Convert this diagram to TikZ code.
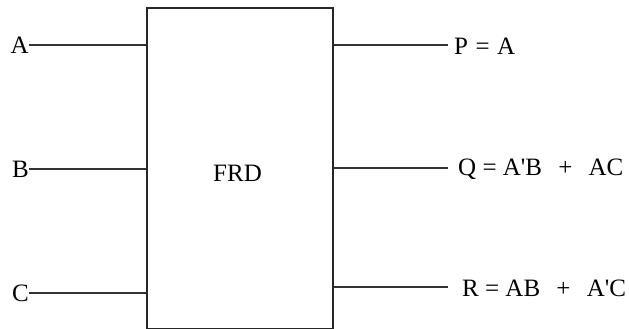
\documentclass[tikz,border=0pt]{standalone}
\usepackage{fontspec}
\setmainfont{Liberation Serif}
\begin{document}
\begin{tikzpicture}[x=1pt,y=-1pt,
  lbl/.style={inner sep=0pt,font=\fontsize{25}{30}\selectfont},
  wire/.style={line width=1.5pt,draw=black!80},
  block/.style={draw=black!85,line width=1.5pt,inner sep=0pt,anchor=north west}]
\useasboundingbox (0,0) rectangle (629,329);
% the block
\node[block,minimum width=186pt,minimum height=320pt] (frd) at (146,7.5) {};
\node[lbl] (name) at (237.5,173) {FRD};
% inputs
\node[lbl,anchor=east] (A) at (29,45) {A};
\node[lbl,anchor=east] (B) at (29,169) {B};
\node[lbl,anchor=east] (C) at (29,293) {C};
\draw[wire] (A.east) -- (frd.west |- A.east);
\draw[wire] (B.east) -- (frd.west |- B.east);
\draw[wire] (C.east) -- (frd.west |- C.east);
% outputs
\node[lbl,anchor=west] (P) at (454,46) {P\hspace{0.3em}=\hspace{0.3em}A};
\node[lbl,anchor=west] (Q) at (458,169) {Q = A\textquotesingle B\hspace{0.65em}+\hspace{0.65em}AC};
\node[lbl,anchor=west] (R) at (462,288) {R = AB\hspace{0.65em}+\hspace{0.65em}A\textquotesingle C};
\coordinate (pe) at (448,45);
\coordinate (qe) at (448,168);
\coordinate (re) at (448,287);
\draw[wire] (frd.east |- pe) -- (pe);
\draw[wire] (frd.east |- qe) -- (qe);
\draw[wire] (frd.east |- re) -- (re);
\end{tikzpicture}
\end{document}
